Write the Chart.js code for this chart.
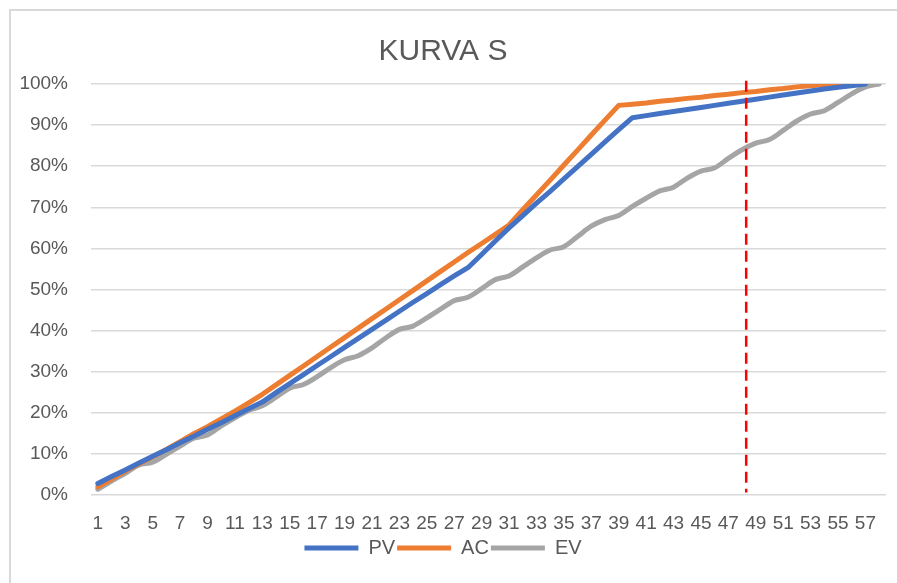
<!DOCTYPE html>
<html>
<head>
<meta charset="utf-8">
<title>KURVA S</title>
<script src="https://cdn.jsdelivr.net/npm/chart.js@4.4.1/dist/chart.umd.min.js"></script>
<style>
  html, body { margin: 0; padding: 0; background: #fff; }
  #wrap { position: relative; width: 897px; height: 583px; overflow: hidden; }
  #frame { position: absolute; left: 9px; top: 9px; right: -10px; bottom: -10px;
           border-left: 2px solid #d9d9d9; border-top: 2px solid #d9d9d9; pointer-events: none; }
  canvas { position: absolute; left: 0; top: 0; }
</style>
</head>
<body>
<div id="wrap">
  <canvas id="chart" width="897" height="583"></canvas>
  <div id="frame"></div>
</div>
<script>
// week numbers on the x axis
const categories = ['1','2','3','4','5','6','7','8','9','10','11','12','13','14','15','16','17','18','19','20',
  '21','22','23','24','25','26','27','28','29','30','31','32','33','34','35','36','37','38','39','40',
  '41','42','43','44','45','46','47','48','49','50','51','52','53','54','55','56','57','58'];

// cumulative progress, percent
const pv = [2.8, 4.5, 6.1, 7.8, 9.4, 11.0, 12.7, 14.3, 16.0, 17.6, 19.3, 21.0, 22.6, 24.9, 27.1, 29.3, 31.5, 33.7, 35.9, 38.1,
  40.3, 42.5, 44.7, 46.9, 49.0, 51.2, 53.3, 55.3, 58.5, 61.8, 65.0, 68.0, 71.0, 73.9, 76.9, 79.9, 82.9, 85.9, 88.9, 91.8,
  92.3, 92.8, 93.3, 93.8, 94.3, 94.8, 95.3, 95.8, 96.3, 96.8, 97.3, 97.8, 98.3, 98.8, 99.2, 99.6, 100];

const ac = [2.0, 3.9, 5.8, 7.6, 9.3, 11.1, 13.0, 14.9, 16.6, 18.5, 20.4, 22.4, 24.5, 26.8, 29.1, 31.4, 33.7, 36.0, 38.3, 40.6,
  42.9, 45.2, 47.5, 49.8, 52.1, 54.4, 56.7, 59.0, 61.2, 63.4, 65.7, 69.4, 73.0, 76.6, 80.3, 83.9, 87.6, 91.2, 94.8, 95.1,
  95.4, 95.8, 96.1, 96.5, 96.8, 97.2, 97.5, 97.9, 98.2, 98.6, 98.9, 99.3, 99.6, 99.9, 100, 100];

const ev = [1.4, 3.4, 5.3, 7.3, 8.0, 9.9, 11.9, 13.8, 14.6, 16.8, 18.8, 20.6, 21.7, 23.8, 26.0, 26.9, 28.8, 31.0, 32.9, 33.9,
  35.8, 38.2, 40.3, 41.1, 43.1, 45.2, 47.3, 48.1, 50.2, 52.4, 53.3, 55.5, 57.7, 59.6, 60.4, 62.9, 65.4, 67.0, 68.0, 70.2,
  72.2, 74.0, 74.9, 77.1, 78.8, 79.6, 81.9, 84.0, 85.6, 86.5, 88.7, 91.0, 92.7, 93.5, 95.5, 97.6, 99.3, 100];

// position of the red "today" marker, in weeks
const statusWeek = 48.3;

const textColor = '#595959';
const fontFamily = "'Liberation Sans', Arial, sans-serif";

// vertical dashed status line
const statusLine = {
  id: 'statusLine',
  afterDatasetsDraw(chart) {
    const { ctx, scales: { x, y } } = chart;
    const px = x.getPixelForValue(statusWeek - 1);
    ctx.save();
    ctx.strokeStyle = '#ff0000';
    ctx.lineWidth = 2.5;
    ctx.setLineDash([11, 6]);
    ctx.beginPath();
    ctx.moveTo(px, y.getPixelForValue(100.8));
    ctx.lineTo(px, y.getPixelForValue(0.6));
    ctx.stroke();
    ctx.restore();
  }
};

function lineSet(label, data, color, smooth) {
  return {
    label, data,
    borderColor: color,
    backgroundColor: color,
    borderWidth: 5,
    borderCapStyle: 'round',
    borderJoinStyle: 'round',
    pointRadius: 0,
    tension: 0,
    cubicInterpolationMode: smooth ? 'monotone' : 'default',
    fill: false
  };
}

new Chart(document.getElementById('chart'), {
  type: 'line',
  data: {
    labels: categories,
    datasets: [
      lineSet('PV', pv, '#4472c4', false),
      lineSet('AC', ac, '#ed7d31', false),
      lineSet('EV', ev, '#a5a5a5', true)
    ]
  },
  options: {
    responsive: false,
    animation: false,
    layout: { padding: { top: 4, right: 11, bottom: 15, left: 0 } },
    plugins: {
      title: {
        display: true,
        text: 'KURVA S',
        color: textColor,
        font: { family: fontFamily, size: 30, weight: 'normal' },
        padding: { top: 30, bottom: 14 }
      },
      legend: {
        position: 'bottom',
        labels: {
          usePointStyle: true,
          pointStyle: 'line',
          pointStyleWidth: 54,
          padding: 2,
          color: textColor,
          font: { family: fontFamily, size: 20 }
        }
      },
      tooltip: { enabled: false }
    },
    scales: {
      x: {
        offset: true,
        grid: { display: false, drawTicks: false },
        border: { display: false },
        ticks: {
          autoSkip: false,
          maxRotation: 0,
          minRotation: 0,
          padding: 17,
          color: textColor,
          font: { family: fontFamily, size: 19 },
          callback: (v, i) => (i % 2 === 0 ? categories[i] : '')
        },
        afterFit(scale) { scale.height = 41; }
      },
      y: {
        min: 0,
        max: 100,
        grid: { color: '#d9d9d9', lineWidth: 1.5, drawTicks: false },
        border: { display: false },
        ticks: {
          stepSize: 10,
          padding: 23,
          color: textColor,
          font: { family: fontFamily, size: 19 },
          callback: v => v + '%'
        },
        afterFit(scale) { scale.width = 91; }
      }
    }
  },
  plugins: [statusLine]
});
</script>
</body>
</html>
